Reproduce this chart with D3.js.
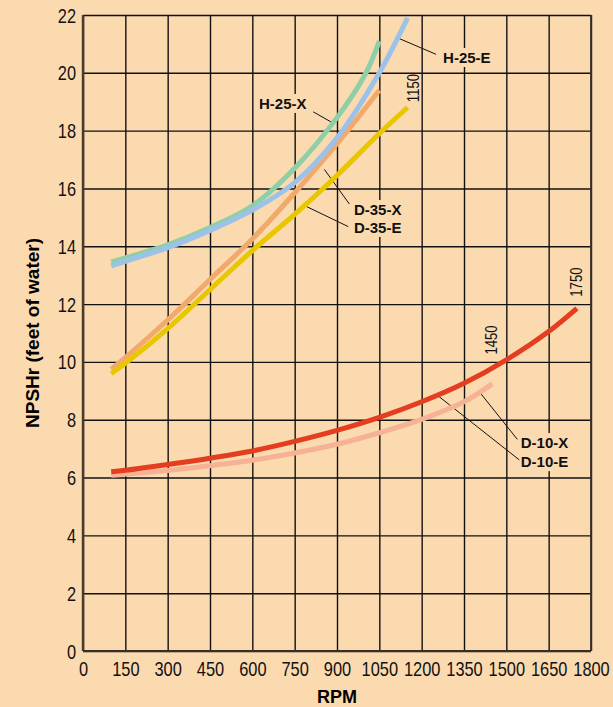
<!DOCTYPE html>
<html>
<head>
<meta charset="utf-8">
<script src="https://cdn.jsdelivr.net/npm/d3@7"></script>
<style>
  body { margin: 0; background: #fbdab0; }
  svg { display: block; }
</style>
</head>
<body>
<div id="chart"></div>
<script>
// data
const rpmTicks = [0, 150, 300, 450, 600, 750, 900, 1050, 1200, 1350, 1500, 1650, 1800];
const npshTicks = [0, 2, 4, 6, 8, 10, 12, 14, 16, 18, 20, 22];

const d35xRpm = [100, 150, 300, 450, 600, 750, 900, 1050];
const d35xVal = [9.75, 10.15, 11.45, 12.85, 14.25, 15.85, 17.55, 19.4];
const d35eRpm = [100, 150, 300, 450, 600, 750, 900, 1050, 1150];
const d35eVal = [9.6, 9.95, 11.15, 12.5, 13.85, 15.1, 16.45, 17.9, 18.8];
const h25xRpm = [100, 150, 300, 450, 600, 750, 900, 1000, 1050];
const h25xVal = [13.45, 13.6, 14.05, 14.65, 15.4, 16.7, 18.45, 19.95, 21.1];
const h25eRpm = [100, 150, 300, 450, 600, 750, 900, 1050, 1150];
const h25eVal = [13.32, 13.48, 13.95, 14.55, 15.25, 16.2, 17.75, 20.0, 21.9];
const d10eRpm = [100, 150, 300, 450, 600, 750, 900, 1050, 1200, 1350, 1450];
const d10eVal = [6.08, 6.12, 6.24, 6.41, 6.6, 6.85, 7.15, 7.55, 8.01, 8.62, 9.24];
const d10xRpm = [100, 150, 300, 450, 600, 750, 900, 1050, 1200, 1350, 1500, 1650, 1750];
const d10xVal = [6.2, 6.25, 6.45, 6.67, 6.92, 7.25, 7.63, 8.08, 8.62, 9.26, 10.07, 11.05, 11.85];

const maxRpmNames = ["1150", "1450", "1750"];

const W = 613, H = 707;
const bg = "#fbdab0";
const squeeze = 0.82; // tick font is a narrow face

const x = d3.scaleLinear().domain([0, 1800]).range([83, 591]);
const y = d3.scaleLinear().domain([0, 22]).range([651, 15]);

const svg = d3.select("#chart").append("svg")
  .attr("width", W)
  .attr("height", H);

svg.append("rect").attr("width", W).attr("height", H).attr("fill", bg);

const sans = "'Liberation Sans', Arial, sans-serif";

// grid via axes
const xAxis = svg.append("g")
  .attr("transform", "translate(0," + y(0) + ")")
  .call(d3.axisBottom(x).tickValues(rpmTicks).tickFormat(d3.format("d"))
    .tickSizeInner(-(y(0) - y(22))).tickSizeOuter(0).tickPadding(0));
xAxis.select(".domain").remove();
xAxis.selectAll(".tick line").attr("stroke", "#111").attr("stroke-width", 1.4);
xAxis.selectAll(".tick text")
  .attr("y", 25).attr("dy", 0)
  .attr("transform", "scale(" + squeeze + ",1)")
  .attr("fill", "#111")
  .style("font-family", sans).style("font-size", "20px");

const yAxis = svg.append("g")
  .attr("transform", "translate(" + x(0) + ",0)")
  .call(d3.axisLeft(y).tickValues(npshTicks).tickFormat(d3.format("d"))
    .tickSizeInner(-(x(1800) - x(0))).tickSizeOuter(0).tickPadding(0));
yAxis.select(".domain").remove();
yAxis.selectAll(".tick line").attr("stroke", "#111").attr("stroke-width", 1.4);
yAxis.selectAll(".tick text")
  .attr("x", -7 / squeeze).attr("dy", "0.35em")
  .attr("transform", "scale(" + squeeze + ",1)")
  .attr("fill", "#111")
  .style("font-family", sans).style("font-size", "20px");

// frame
svg.append("line").attr("x1", x(0)).attr("x2", x(0)).attr("y1", y(22)).attr("y2", y(0))
  .attr("stroke", "#4a3a2a").attr("stroke-width", 2.4);
svg.append("line").attr("x1", x(0)).attr("x2", x(1800)).attr("y1", y(0)).attr("y2", y(0))
  .attr("stroke", "#3a2e22").attr("stroke-width", 2.2);
svg.append("line").attr("x1", x(1800)).attr("x2", x(1800)).attr("y1", y(22)).attr("y2", y(0))
  .attr("stroke", "#3a3028").attr("stroke-width", 1.8);

// axis titles
svg.append("text")
  .attr("x", (x(0) + x(1800)) / 2).attr("y", 703)
  .attr("text-anchor", "middle")
  .style("font-family", sans).style("font-weight", "bold").style("font-size", "18px")
  .text("RPM");
svg.append("text")
  .attr("transform", "translate(39," + (y(0) + y(22)) / 2 + ") rotate(-90)")
  .attr("text-anchor", "middle")
  .style("font-family", sans).style("font-weight", "bold").style("font-size", "19px")
  .text("NPSHr (feet of water)");

// curve labels, with knock-out behind them
const labels = [
  { name: "H-25-E", at: [1117, 21.2], to: [1251, 20.64], tx: 1276, ty: 20.34, anchor: "start" },
  { name: "H-25-X", at: [879, 18.3], to: [816, 18.65], tx: 792, ty: 18.75, anchor: "end" },
  { name: "D-35-X", at: [855, 16.66], to: [944, 15.46], tx: 960, ty: 15.08, anchor: "start" },
  { name: "D-35-E", at: [793, 15.37], to: [940, 14.68], tx: 960, ty: 14.46, anchor: "start" },
  { name: "D-10-X", at: [1404, 8.97], to: [1539, 7.32], tx: 1551, ty: 7.02, anchor: "start" },
  { name: "D-10-E", at: [1259, 8.82], to: [1546, 6.61], tx: 1551, ty: 6.36, anchor: "start" }
];

const lg = svg.append("g");
labels.forEach(function (l) {
  const t = lg.append("text")
    .attr("x", x(l.tx)).attr("y", y(l.ty))
    .attr("text-anchor", l.anchor)
    .style("font-family", sans).style("font-weight", "bold").style("font-size", "15px")
    .attr("fill", "#111")
    .text(l.name);
  const bb = t.node().getBBox();
  lg.insert("rect", "text")
    .attr("x", bb.x - 2).attr("y", bb.y - 1)
    .attr("width", bb.width + 4).attr("height", bb.height + 2)
    .attr("fill", bg);
});
labels.forEach(function (l) {
  lg.append("line")
    .attr("x1", x(l.at[0])).attr("y1", y(l.at[1]))
    .attr("x2", x(l.to[0])).attr("y2", y(l.to[1]))
    .attr("stroke", "#111").attr("stroke-width", 1);
});

// curves
const series = [
  { rpm: d35xRpm, val: d35xVal, color: "#f2a96a" },
  { rpm: d35eRpm, val: d35eVal, color: "#e8c700" },
  { rpm: h25xRpm, val: h25xVal, color: "#8fcfa7" },
  { rpm: h25eRpm, val: h25eVal, color: "#9cc2ea" },
  { rpm: d10eRpm, val: d10eVal, color: "#f6b294" },
  { rpm: d10xRpm, val: d10xVal, color: "#e23e1f" }
];

const line = d3.line()
  .x(function (d) { return x(d[0]); })
  .y(function (d) { return y(d[1]); })
  .curve(d3.curveCatmullRom.alpha(0.5));

series.forEach(function (s) {
  const pts = s.rpm.map(function (r, i) { return [r, s.val[i]]; });
  svg.append("path")
    .attr("d", line(pts))
    .attr("fill", "none")
    .attr("stroke", s.color)
    .attr("stroke-width", 5);
});

// max rpm marks
const maxRpmPos = [[1169, 19.47], [1446, 10.76], [1750, 12.76]];
maxRpmNames.forEach(function (n, i) {
  svg.append("text")
    .attr("transform", "translate(" + x(maxRpmPos[i][0]) + "," + y(maxRpmPos[i][1]) + ") rotate(-90) scale(" + squeeze + ",1)")
    .attr("text-anchor", "middle").attr("dy", "0.35em")
    .style("font-family", sans).style("font-size", "16px")
    .attr("fill", "#111")
    .text(n);
});
</script>
</body>
</html>
